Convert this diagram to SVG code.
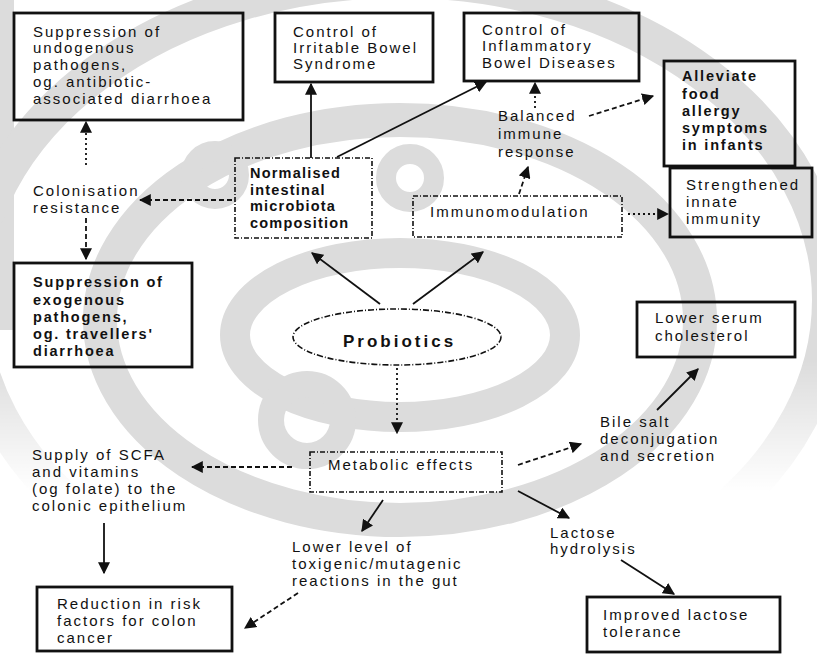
<svg xmlns="http://www.w3.org/2000/svg" width="817" height="656" viewBox="0 0 817 656">
<defs>
<style>
.t{font-family:"Liberation Sans",Arial,sans-serif;font-size:15px;letter-spacing:2px;fill:#111}
.b{font-family:"Liberation Sans",Arial,sans-serif;font-size:14.5px;font-weight:bold;letter-spacing:1.8px;fill:#111}
.box{fill:none;stroke:#111;stroke-width:2.8}
.dbox{fill:none;stroke:#111;stroke-width:1.6;stroke-dasharray:5 2 1 2}
.c{fill:none;stroke:#111;stroke-width:1.8}
.dot{stroke-dasharray:2 3}
.dash{stroke-dasharray:5 3}
.wm{fill:none;stroke:#dcdcdc}
</style>
<linearGradient id="fade" x1="0" y1="0" x2="0" y2="656" gradientUnits="userSpaceOnUse">
<stop offset="0.55" stop-color="#fff"/>
<stop offset="0.75" stop-color="#000"/>
</linearGradient>
<mask id="upper" maskUnits="userSpaceOnUse" x="0" y="0" width="817" height="656"><rect x="0" y="0" width="817" height="656" fill="url(#fade)"/></mask>
<marker id="ah" viewBox="0 0 10 10" refX="9" refY="5" markerWidth="12" markerHeight="12" markerUnits="userSpaceOnUse" orient="auto">
<path d="M0,0 L10,5 L0,10 z" fill="#111"/>
</marker>
</defs>
<rect width="817" height="656" fill="#fff"/>
<g id="watermark">
<rect x="0" y="0" width="14" height="330" fill="#dcdcdc"/>
<ellipse class="wm" cx="400" cy="335" rx="165" ry="82" stroke-width="30"/>
<ellipse class="wm" cx="400" cy="320" rx="300" ry="200" stroke-width="34"/>
<ellipse class="wm" cx="400" cy="300" rx="430" ry="320" stroke-width="36" mask="url(#upper)"/>
<circle cx="215" cy="175" r="24" fill="none" stroke="#dcdcdc" stroke-width="20"/>
<circle cx="410" cy="178" r="24" fill="none" stroke="#dcdcdc" stroke-width="20"/>
<circle cx="307" cy="420" r="36" fill="none" stroke="#dcdcdc" stroke-width="26"/>
</g>
<g id="connectors">
<line class="c dot" x1="86" y1="165" x2="86" y2="122" marker-end="url(#ah)"/>
<line class="c dash" x1="86" y1="218" x2="86" y2="259" marker-end="url(#ah)"/>
<line class="c dash" x1="232" y1="200" x2="140" y2="200" marker-end="url(#ah)"/>
<line class="c" x1="311" y1="158" x2="311" y2="84" marker-end="url(#ah)"/>
<line class="c" x1="337" y1="157" x2="486" y2="82" marker-end="url(#ah)"/>
<line class="c dot" x1="535" y1="108" x2="535" y2="83" marker-end="url(#ah)"/>
<line class="c dash" x1="519" y1="194" x2="528" y2="167" marker-end="url(#ah)"/>
<line class="c dash" x1="589" y1="116" x2="653" y2="96" marker-end="url(#ah)"/>
<line class="c dot" x1="628" y1="214" x2="668" y2="214" marker-end="url(#ah)"/>
<line class="c" x1="380" y1="304" x2="312" y2="253" marker-end="url(#ah)"/>
<line class="c" x1="413" y1="304" x2="483" y2="252" marker-end="url(#ah)"/>
<line class="c dot" x1="397" y1="368" x2="397" y2="433" marker-end="url(#ah)"/>
<line class="c dash" x1="292" y1="467" x2="192" y2="467" marker-end="url(#ah)"/>
<line class="c" x1="104" y1="523" x2="104" y2="573" marker-end="url(#ah)"/>
<line class="c" x1="383" y1="500" x2="362" y2="531" marker-end="url(#ah)"/>
<line class="c dash" x1="298" y1="593" x2="245" y2="628" marker-end="url(#ah)"/>
<line class="c dash" x1="518" y1="465" x2="581" y2="444" marker-end="url(#ah)"/>
<line class="c" x1="657" y1="410" x2="698" y2="369" marker-end="url(#ah)"/>
<line class="c" x1="518" y1="491" x2="569" y2="518" marker-end="url(#ah)"/>
<line class="c" x1="621" y1="560" x2="674" y2="594" marker-end="url(#ah)"/>
</g>
<g id="endogenous">
<rect class="box" x="14" y="13" width="229" height="107"/>
<text class="t"><tspan x="33" y="37">Suppression of</tspan><tspan x="33" y="53">undogenous</tspan><tspan x="33" y="70">pathogens,</tspan><tspan x="33" y="87">og. antibiotic-</tspan><tspan x="33" y="104">associated diarrhoea</tspan></text>
</g>
<g id="ibs">
<rect class="box" x="275" y="13" width="158" height="69"/>
<text class="t"><tspan x="293" y="37">Control of</tspan><tspan x="293" y="53">Irritable Bowel</tspan><tspan x="293" y="69">Syndrome</tspan></text>
</g>
<g id="ibd">
<rect class="box" x="464" y="13" width="175" height="68"/>
<text class="t"><tspan x="482" y="35">Control of</tspan><tspan x="482" y="51">Inflammatory</tspan><tspan x="482" y="68">Bowel Diseases</tspan></text>
</g>
<g id="allergy">
<rect class="box" x="664" y="61" width="131" height="105"/>
<text class="b"><tspan x="682" y="81">Alleviate</tspan><tspan x="682" y="99">food</tspan><tspan x="682" y="116">allergy</tspan><tspan x="682" y="133">symptoms</tspan><tspan x="682" y="150">in infants</tspan></text>
</g>
<g id="innate">
<rect class="box" x="670" y="168" width="142" height="69"/>
<text class="t"><tspan x="686" y="190">Strengthened</tspan><tspan x="686" y="207">innate</tspan><tspan x="686" y="224">immunity</tspan></text>
</g>
<g id="colonisation">
<text class="t"><tspan x="33" y="196">Colonisation</tspan><tspan x="33" y="213">resistance</tspan></text>
</g>
<g id="normalised">
<rect class="dbox" x="235" y="158" width="137" height="80"/>
<text class="b" style="letter-spacing:1.2px"><tspan x="250" y="178">Normalised</tspan><tspan x="250" y="195">intestinal</tspan><tspan x="250" y="211">microbiota</tspan><tspan x="250" y="228">composition</tspan></text>
</g>
<g id="balanced">
<text class="t"><tspan x="498" y="121">Balanced</tspan><tspan x="498" y="139">immune</tspan><tspan x="498" y="157">response</tspan></text>
</g>
<g id="immunomodulation">
<rect class="dbox" x="413" y="196" width="209" height="41"/>
<text class="t" x="430" y="217">Immunomodulation</text>
</g>
<g id="exogenous">
<rect class="box" x="14" y="263" width="178" height="104"/>
<text class="b"><tspan x="33" y="287">Suppression of</tspan><tspan x="33" y="305">exogenous</tspan><tspan x="33" y="322">pathogens,</tspan><tspan x="33" y="339">og. travellers'</tspan><tspan x="33" y="356">diarrhoea</tspan></text>
</g>
<g id="probiotics">
<ellipse cx="397" cy="337" rx="104" ry="28" fill="none" stroke="#111" stroke-width="1.6" stroke-dasharray="6 2 1 2"/>
<text class="b" x="343" y="347" style="font-size:17px;letter-spacing:3px">Probiotics</text>
</g>
<g id="cholesterol">
<rect class="box" x="637" y="302" width="158" height="55"/>
<text class="t"><tspan x="655" y="323">Lower serum</tspan><tspan x="655" y="341">cholesterol</tspan></text>
</g>
<g id="bile">
<text class="t"><tspan x="600" y="427">Bile salt</tspan><tspan x="600" y="444">deconjugation</tspan><tspan x="600" y="461">and secretion</tspan></text>
</g>
<g id="metabolic">
<rect class="dbox" x="310" y="452" width="192" height="40"/>
<text class="t" x="328" y="470">Metabolic effects</text>
</g>
<g id="scfa">
<text class="t"><tspan x="32" y="460">Supply of SCFA</tspan><tspan x="32" y="477">and vitamins</tspan><tspan x="32" y="494">(og folate) to the</tspan><tspan x="32" y="511">colonic epithelium</tspan></text>
</g>
<g id="lowerlevel">
<text class="t"><tspan x="292" y="552">Lower level of</tspan><tspan x="292" y="569">toxigenic/mutagenic</tspan><tspan x="292" y="586">reactions in the gut</tspan></text>
</g>
<g id="lactose">
<text class="t"><tspan x="550" y="538">Lactose</tspan><tspan x="550" y="554">hydrolysis</tspan></text>
</g>
<g id="cancer">
<rect class="box" x="37" y="587" width="195" height="64"/>
<text class="t"><tspan x="57" y="609">Reduction in risk</tspan><tspan x="57" y="626">factors for colon</tspan><tspan x="57" y="643">cancer</tspan></text>
</g>
<g id="tolerance">
<rect class="box" x="587" y="597" width="193" height="55"/>
<text class="t"><tspan x="603" y="620">Improved lactose</tspan><tspan x="603" y="637">tolerance</tspan></text>
</g>
</svg>
